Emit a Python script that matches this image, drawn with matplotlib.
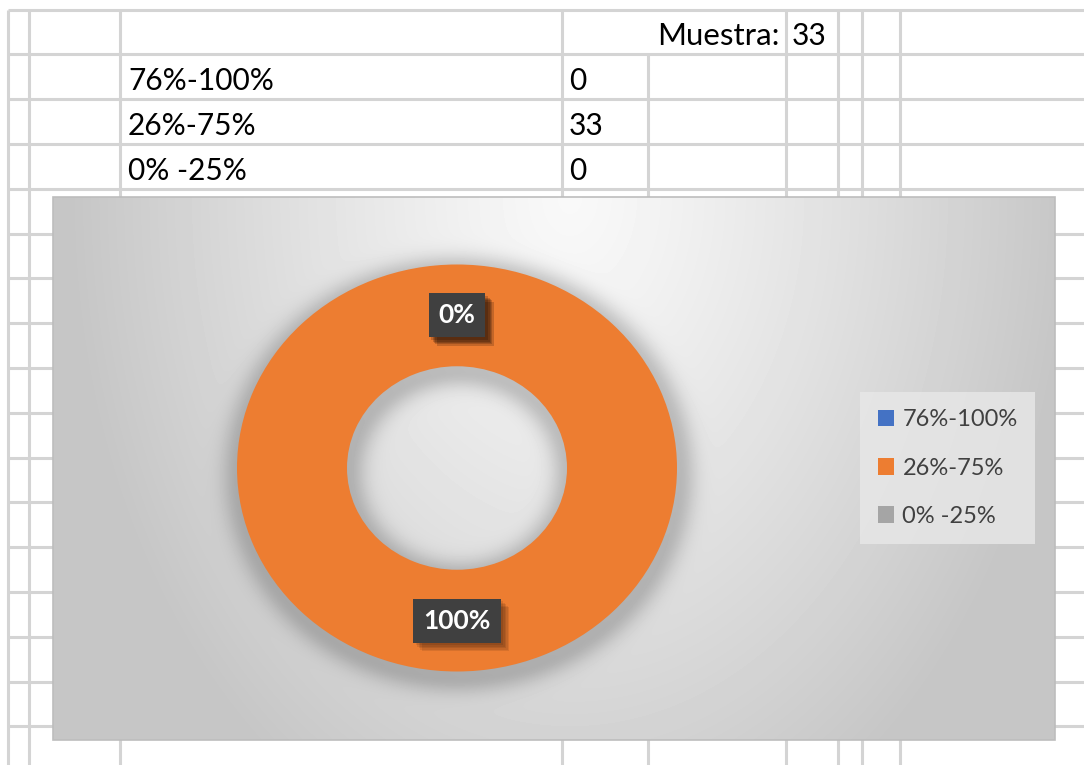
import numpy as np
import matplotlib
matplotlib.use('Agg')
import matplotlib.pyplot as plt
import matplotlib.patheffects as pe

plt.rcParams['font.family'] = ['Lato', 'DejaVu Sans']

# datos de la hoja
categorias = ['76%-100%', '26%-75%', '0% -25%']
cantidades = [0, 33, 0]
muestra = 33
colores = ['#4472C4', '#ED7D31', '#A5A5A5']

W, H = 1084, 765
fig = plt.figure(figsize=(W / 100, H / 100), dpi=100)
fig.patch.set_facecolor('white')

# eje de fondo en pixeles (cuadricula de Excel)
ax = fig.add_axes([0, 0, 1, 1])
ax.set_xlim(0, W)
ax.set_ylim(H, 0)
ax.axis('off')

grid_col = '#D4D4D4'
filas_y = [9.5 + 44.8 * k for k in range(17)]
cols_x = [8, 29, 120, 562, 648, 786, 838, 862, 900]
for y in filas_y:
    ax.plot([8, W], [y, y], color=grid_col, lw=2.2, solid_capstyle='butt', zorder=1)
for x in cols_x:
    y0 = filas_y[1] if x == 648 else filas_y[0]
    ax.plot([x, x], [y0, H], color=grid_col, lw=2.2, solid_capstyle='butt', zorder=1)

# textos de la tabla
ax.text(780, filas_y[1] - 9, 'Muestra:', ha='right', va='baseline', fontsize=22.5, zorder=2)
ax.text(792, filas_y[1] - 9, str(muestra), ha='left', va='baseline', fontsize=21.5, zorder=2)
for i, (cat, n) in enumerate(zip(categorias, cantidades)):
    yb = filas_y[i + 2] - 9
    ax.text(128, yb, cat, ha='left', va='baseline', fontsize=21.5, zorder=2)
    ax.text(569, yb, str(n), ha='left', va='baseline', fontsize=21.5, zorder=2)

# area del grafico: degradado + sombra del anillo
cx0, cx1, cy0, cy1 = 53, 1055, 197, 740
yy, xx = np.mgrid[cy0:cy1, cx0:cx1] + 0.5
rho = np.sqrt(((xx - 570) / 500) ** 2 + ((yy - cy0) / 700) ** 2)
fondo = 0.975 - 0.2 * np.clip(rho, 0, 1) ** 1.2

dcx, dcy, rx, ry = 457, 468, 220, 203.5
r = np.sqrt(((xx - dcx - 2) / rx) ** 2 + ((yy - dcy - 6) / ry) ** 2)
d = np.where(r > 1, (r - 1) * 212, np.where(r < 0.5, (0.5 - r) * 212, 0))
sombra = 0.2 * np.exp(-(d / 17) ** 2)
fondo = fondo * (1 - sombra)
ax.imshow(fondo, cmap='gray', vmin=0, vmax=1, extent=(cx0, cx1, cy1, cy0),
          aspect='auto', interpolation='bilinear', zorder=3)
ax.add_patch(plt.Rectangle((cx0, cy0), cx1 - cx0, cy1 - cy0, fill=False,
                           ec='#BDBDBD', lw=1.2, zorder=4))

# anillo
ax2 = fig.add_axes([(dcx - 1.25 * rx) / W, 1 - (dcy + 1.25 * ry) / H,
                    2.5 * rx / W, 2.5 * ry / H])
ax2.patch.set_alpha(0)
wedges, _ = ax2.pie(cantidades, colors=colores, startangle=90, counterclock=False,
                    radius=1, wedgeprops=dict(width=0.5, linewidth=0))
ax2.set_xlim(-1.25, 1.25)
ax2.set_ylim(-1.25, 1.25)
ax2.set_aspect('auto')
ax2.axis('off')

# sombra difusa de las etiquetas
efecto = [pe.SimplePatchShadow(offset=(o, -o), shadow_rgbFace='black', alpha=0.09)
          for o in (2, 3, 4, 5, 6)] + [pe.Normal()]

total = sum(cantidades)
for w, n in zip(wedges, cantidades):
    ang = np.deg2rad((w.theta1 + w.theta2) / 2)
    t = ax2.text(0.75 * np.cos(ang), 0.75 * np.sin(ang), f'{n / total * 100:.0f}%',
                 ha='center', va='center', color='white', fontsize=19, fontweight='bold',
                 bbox=dict(boxstyle='square,pad=0.38', fc='#404040', ec='none'))
    t.get_bbox_patch().set_path_effects(efecto)

# leyenda
leg = fig.legend(wedges, categorias, loc='center left',
                 bbox_to_anchor=(860 / W, 1 - 468 / H), borderaxespad=0,
                 frameon=True, fancybox=False,
                 fontsize=17, labelcolor='#404040', handlelength=0.7, handleheight=0.7,
                 handletextpad=0.35, labelspacing=1.15, borderpad=0.75)
leg.get_frame().set_facecolor('#E8E8E8')
leg.get_frame().set_edgecolor('none')

fig.savefig('out.png', dpi=100)
